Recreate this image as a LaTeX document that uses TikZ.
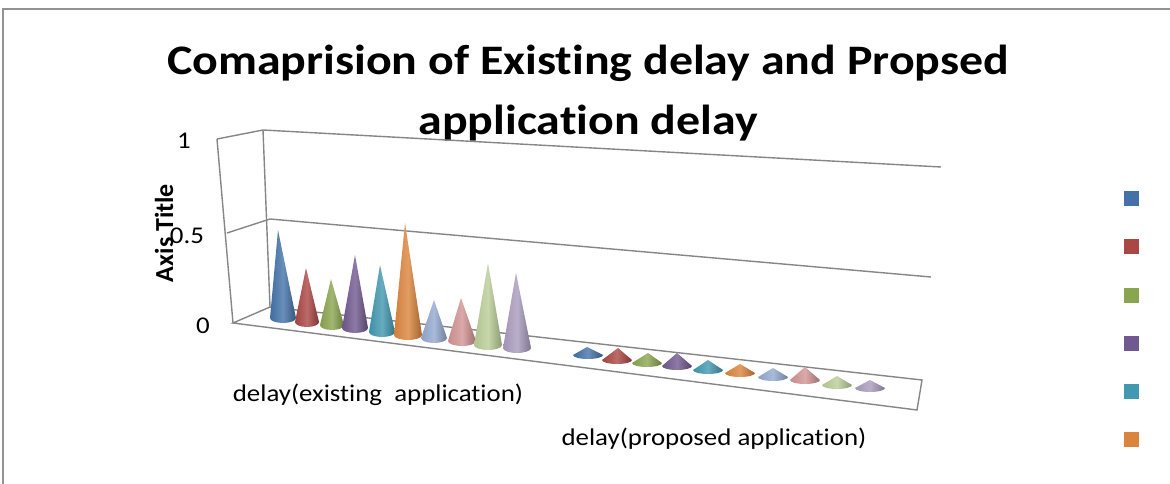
\documentclass[tikz,border=0pt]{standalone}
\usepackage{fontspec}
\setmainfont{Carlito}[Ligatures=NoCommon]
\definecolor{cBlue}{HTML}{4472A8}
\definecolor{cRed}{HTML}{AA4644}
\definecolor{cGreen}{HTML}{89A54E}
\definecolor{cPurple}{HTML}{71588F}
\definecolor{cTeal}{HTML}{4198AF}
\definecolor{cOrange}{HTML}{DB843D}
\definecolor{cLBlue}{HTML}{93A9CF}
\definecolor{cPink}{HTML}{D19392}
\definecolor{cLGreen}{HTML}{B9CD96}
\definecolor{cLav}{HTML}{A99BBD}
\definecolor{gridgray}{HTML}{868686}
\tikzset{
  grid/.style={draw=gridgray, line width=1.4pt},
  frame/.style={draw=gridgray!90, line width=1.2pt},
  lbl/.style={font=\fontsize{24}{28}\selectfont, inner sep=0pt, xscale=1.12},
  titletxt/.style={font=\bfseries\fontsize{42}{60}\selectfont, align=center, inner sep=0pt, xscale=1.14},
  legsq/.style={minimum size=15pt, inner sep=0pt},
}
% cone: color, apex x, apex y, base x, base y, rx, ry
\newcommand\mycone[7]{%
  \path[shade, left color=#1!95!black, right color=#1!75!black, middle color=#1!80!white]
    ({#4-#6},#5) -- (#2,#3) -- ({#4+#6},#5)
    arc[start angle=0, end angle=180, x radius=#6, y radius=#7] -- cycle;
}
\begin{document}
\begin{tikzpicture}[x=1pt, y=-1pt]
\useasboundingbox (0,0) rectangle (1170,484);
% outer frame
\draw[frame] (3,490) -- (3,9) -- (1175,9);
% title
\node[titletxt] (title) at (588,93) {Comaprision of Existing delay and Propsed\\application delay};
% walls and gridlines
\coordinate (lt) at (217,139);
\coordinate (lm) at (227,233);
\coordinate (lb) at (233,323);
\coordinate (bt) at (263,130);
\coordinate (bm) at (270,219);
\coordinate (bb) at (270,307);
\coordinate (rt) at (941,167);
\coordinate (rm) at (931,277);
\coordinate (rb) at (922,380);
\coordinate (fr) at (917,410);
\draw[grid] (lt) -- (lb);
\draw[grid] (bt) -- (bb);
\draw[grid] (lt) -- (bt) -- (rt);
\draw[grid] (lm) -- (bm) -- (rm);
\draw[grid] (lb) -- (bb) -- (rb) -- (fr) -- cycle;
% axis labels
\node[lbl] (t1) at (184,141) {1};
\node[lbl] (t05) at (187,236) {0.5};
\node[lbl] (t0) at (203,326) {0};
\node[inner sep=0pt, font=\bfseries\fontsize{26}{30}\selectfont, rotate=90] (ax) at (164,233) {Axis Title};
% cones group 1
\mycone{cBlue}{278}{230}{283}{318}{13}{5}
\mycone{cRed}{306}{268}{307}{322}{12}{5}
\mycone{cGreen}{331}{279}{332}{325}{12}{5}
\mycone{cPurple}{355}{255}{355}{328}{13}{5}
\mycone{cTeal}{380}{265}{382}{332}{13}{5}
\mycone{cOrange}{405}{223}{408}{335}{14}{5}
\mycone{cLBlue}{434}{300}{434}{338}{13}{5}
\mycone{cPink}{461}{298}{462}{341}{14}{5}
\mycone{cLGreen}{488}{263}{488}{345}{14}{5}
\mycone{cLav}{516}{273}{517}{348}{14}{5}
% cones group 2
\mycone{cBlue}{587}{347}{588}{355}{15}{4}
\mycone{cRed}{618}{348}{617}{360}{15}{4}
\mycone{cGreen}{648}{353}{647}{363}{15}{4}
\mycone{cPurple}{677}{353}{677}{366}{15}{4}
\mycone{cTeal}{708}{360}{708}{370}{15}{4}
\mycone{cOrange}{740}{364}{740}{373}{15}{4}
\mycone{cLBlue}{773}{368}{773}{377}{15}{4}
\mycone{cPink}{805}{367}{805}{380}{15}{4}
\mycone{cLGreen}{837}{376}{837}{385}{15}{4}
\mycone{cLav}{870}{380}{870}{388}{15}{4}
% category labels
\node[lbl] (c1) at (378,395) {delay(existing\ \ application)};
\node[lbl] (c2) at (714,439) {delay(proposed application)};
% legend squares
\node[legsq, fill=cBlue] (l1) at (1131,198) {};
\node[legsq, fill=cRed] (l2) at (1131,246) {};
\node[legsq, fill=cGreen] (l3) at (1131,295) {};
\node[legsq, fill=cPurple] (l4) at (1131,343) {};
\node[legsq, fill=cTeal] (l5) at (1131,391) {};
\node[legsq, fill=cOrange] (l6) at (1131,439) {};
\end{tikzpicture}
\end{document}
